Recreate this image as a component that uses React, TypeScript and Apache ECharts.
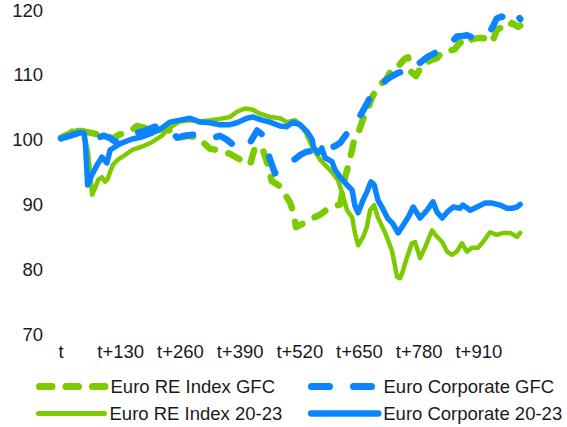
import React, { useEffect, useRef } from "react";
import * as echarts from "echarts";

// x positions in trading days after t, values index (t = 100)
const reGfcDays = [0, 20, 35, 52, 68, 85, 100, 113, 128, 150, 165, 183, 198, 215, 231, 242, 259, 277, 296, 309, 324, 346, 368, 383, 401, 412, 422, 438, 451, 459, 477, 488, 499, 507, 512, 520, 536, 549, 564, 579, 592, 608, 618, 629, 637, 647, 658, 666, 677, 686, 695, 708, 721, 734, 749, 756, 762, 773, 786, 804, 819, 832, 847, 858, 869, 884, 895, 912, 927, 939, 949, 963, 971, 982, 995, 1000];
const reGfcVals = [100.3, 101, 101.8, 101.2, 101, 100.7, 100.5, 100.2, 100.8, 101.2, 102.1, 101.8, 101.3, 101.5, 101.8, 101, 100.3, 100.6, 100.4, 99.6, 98.6, 98.3, 97.8, 97.2, 96.5, 96.2, 98.7, 98.8, 96, 93.6, 92.8, 91.5, 90.3, 88.5, 86.5, 86.8, 87.3, 87.9, 88.4, 89.2, 89.6, 90, 94, 96.9, 99.5, 101, 103.2, 104.2, 106.5, 107.6, 108.5, 109.3, 111, 111.3, 112.5, 112.7, 110.5, 109.8, 111.5, 112.2, 112.6, 113.6, 113.7, 114, 115, 114.6, 115.5, 115.7, 115.6, 115, 116.9, 117.5, 117.2, 118, 117.4, 117.6];

const corpGfcDays = [0, 20, 37, 52, 68, 81, 94, 107, 120, 133, 150, 165, 183, 205, 226, 237, 253, 270, 292, 314, 329, 346, 361, 375, 390, 401, 409, 418, 427, 438, 446, 455, 466, 477, 488, 499, 510, 520, 534, 547, 564, 581, 597, 608, 618, 629, 640, 651, 662, 673, 684, 695, 708, 721, 734, 745, 760, 773, 788, 799, 810, 825, 841, 851, 862, 875, 884, 895, 906, 919, 930, 941, 949, 960, 967, 978, 989, 1000];
const corpGfcVals = [100.2, 100.6, 101, 101.2, 101, 100.3, 100.6, 100.2, 99.6, 100.2, 100.8, 101, 101.4, 102, 101.8, 101.5, 100.3, 100.6, 100.8, 100.4, 100.2, 100.6, 100, 99.2, 98.8, 98.6, 99.2, 100.3, 101.4, 100.8, 99, 97, 94.8, 95.5, 96.3, 96.6, 97, 97.6, 98.1, 98.3, 98.5, 98.6, 99, 99.5, 100.5, 101.5, 102.3, 103.6, 105, 106.5, 107.5, 108.2, 109.2, 109.8, 110.3, 110.5, 111.6, 111.4, 112.2, 112.8, 113.2, 113.8, 114.5, 115, 115.9, 116, 116.1, 115.8, 115.9, 116, 116.2, 117.5, 118.7, 119, 118.5, 118.7, 119.6, 118.6];

const re2023Days = [0, 20, 35, 48, 59, 68, 74, 81, 89, 96, 102, 107, 113, 124, 139, 155, 176, 198, 220, 237, 259, 281, 303, 324, 346, 368, 383, 401, 418, 433, 455, 477, 492, 510, 527, 547, 564, 586, 603, 612, 623, 634, 640, 647, 658, 666, 673, 682, 690, 706, 721, 732, 738, 743, 753, 764, 771, 782, 793, 808, 819, 830, 841, 851, 862, 873, 884, 895, 908, 919, 934, 949, 963, 978, 993, 1000];
const re2023Vals = [100.3, 100.8, 101.5, 101.5, 98, 91.5, 92.5, 93.8, 94.2, 93.5, 94, 95, 96.1, 96.9, 97.6, 98.4, 98.9, 99.6, 100.6, 101.8, 102.8, 103, 102.8, 103, 103.2, 103.5, 104.3, 104.8, 104.6, 104, 103.5, 103.3, 102.7, 103, 102, 98.9, 96.9, 95.3, 93.8, 91.8, 89.1, 88, 85.6, 83.7, 85, 86.5, 89.1, 89.9, 88, 85.6, 82.8, 78.8, 78.6, 79.4, 81.7, 84, 84.2, 81.7, 83.4, 86, 85, 84.2, 82.7, 82.2, 82.7, 84, 82.7, 83.3, 83.3, 84.2, 85.7, 85.3, 85.6, 85.6, 85, 85.6];

const corp2023Days = [0, 20, 41, 50, 53, 58, 67, 78, 89, 100, 107, 118, 133, 155, 176, 198, 220, 237, 259, 281, 303, 324, 346, 368, 383, 405, 418, 438, 455, 477, 492, 505, 520, 536, 547, 550, 560, 568, 575, 590, 597, 608, 623, 634, 640, 647, 658, 666, 675, 682, 690, 701, 712, 723, 734, 745, 756, 767, 782, 797, 810, 819, 830, 841, 854, 869, 875, 891, 906, 923, 939, 956, 971, 982, 993, 1000];
const corp2023Vals = [100.2, 100.7, 101.1, 101, 99.5, 93, 94.5, 96, 97.3, 96.4, 98.4, 98.9, 99.5, 100.1, 100.4, 101, 101.8, 102.7, 103, 103.3, 102.7, 102.6, 102.3, 102.3, 102.6, 103.3, 103.5, 103, 102.7, 102.1, 102, 102.7, 102.3, 101.2, 100, 98.8, 97.9, 98.7, 97.2, 96.6, 95.3, 94.2, 93, 92.2, 89.8, 88.7, 90.7, 91.9, 93.5, 93, 90.7, 89.3, 87.8, 87, 85.6, 86.8, 88, 89.6, 87.9, 89.1, 90.4, 88.8, 87.9, 88.8, 89.6, 89.4, 89.9, 89.1, 89.6, 90.2, 90.2, 89.9, 89.4, 89.4, 89.6, 90];

const seriesNames = ["Euro RE Index GFC", "Euro Corporate GFC", "Euro RE Index 20-23", "Euro Corporate 20-23"];
const xTickStep = 130;
const yMin = 70;
const yMax = 120;
const yStep = 10;

const GREEN = "#7CCA00";
const BLUE = "#0A85FF";
const FONT = "'Liberation Sans', Arial, sans-serif";
const TEXT = "#1a1a1a";

const zip = (d: number[], v: number[]) => d.map((x, i) => [x, v[i]]);

export default function App() {
  const ref = useRef<HTMLDivElement>(null);
  useEffect(() => {
    if (!ref.current) return;
    const chart = echarts.init(ref.current, undefined, { renderer: "svg" });
    const textStyle = { fontSize: 18.5, color: TEXT, fontFamily: FONT };
    const greenDash = [12.5, 14];
    const blueDash = [18, 24];
    const mkLegend = (name: string, left: number, top: number, itemWidth: number, lineStyle: any) => ({
      data: [name],
      left,
      top,
      padding: 0,
      itemWidth,
      itemHeight: 14,
      textStyle,
      itemStyle: { opacity: 0 },
      lineStyle,
    });
    chart.setOption({
      animation: false,
      grid: { left: 61, right: 46.8, top: 10, bottom: 93, containLabel: false },
      xAxis: {
        type: "value",
        min: 0,
        max: 1000,
        interval: xTickStep,
        axisLine: { show: false },
        axisTick: { show: false },
        splitLine: { show: false },
        axisLabel: {
          ...textStyle,
          margin: 8,
          showMaxLabel: false,
          formatter: (v: number) => (v === 0 ? "t" : "t+" + v),
        },
      },
      yAxis: {
        type: "value",
        min: yMin,
        max: yMax,
        interval: yStep,
        axisLine: { show: false },
        axisTick: { show: false },
        splitLine: { show: false },
        axisLabel: { ...textStyle, margin: 18 },
      },
      legend: [
        mkLegend(seriesNames[0], 36, 377, 66, { width: 7, type: greenDash, cap: "round" }),
        mkLegend(seriesNames[1], 308, 377, 67, { width: 7, type: blueDash, cap: "round" }),
        mkLegend(seriesNames[2], 36, 404, 66, { width: 5, type: "solid", cap: "round" }),
        mkLegend(seriesNames[3], 308, 404, 67, { width: 6.5, type: "solid", cap: "round" }),
      ],
      series: [
        {
          name: seriesNames[0],
          type: "line",
          data: zip(reGfcDays, reGfcVals),
          symbol: "none",
          itemStyle: { color: GREEN },
          lineStyle: { color: GREEN, width: 6.5, type: greenDash, cap: "round", join: "round" },
        },
        {
          name: seriesNames[1],
          type: "line",
          data: zip(corpGfcDays, corpGfcVals),
          symbol: "none",
          itemStyle: { color: BLUE },
          lineStyle: { color: BLUE, width: 6.5, type: blueDash, cap: "round", join: "round" },
        },
        {
          name: seriesNames[2],
          type: "line",
          data: zip(re2023Days, re2023Vals),
          symbol: "none",
          itemStyle: { color: GREEN },
          lineStyle: { color: GREEN, width: 4.5, cap: "round", join: "round" },
        },
        {
          name: seriesNames[3],
          type: "line",
          data: zip(corp2023Days, corp2023Vals),
          symbol: "none",
          itemStyle: { color: BLUE },
          lineStyle: { color: BLUE, width: 5.5, cap: "round", join: "round" },
        },
      ],
    });
    return () => chart.dispose();
  }, []);
  return (
    <div
      ref={ref}
      style={{ position: "fixed", left: 0, top: 0, width: 567, height: 427, background: "#fff" }}
    />
  );
}
